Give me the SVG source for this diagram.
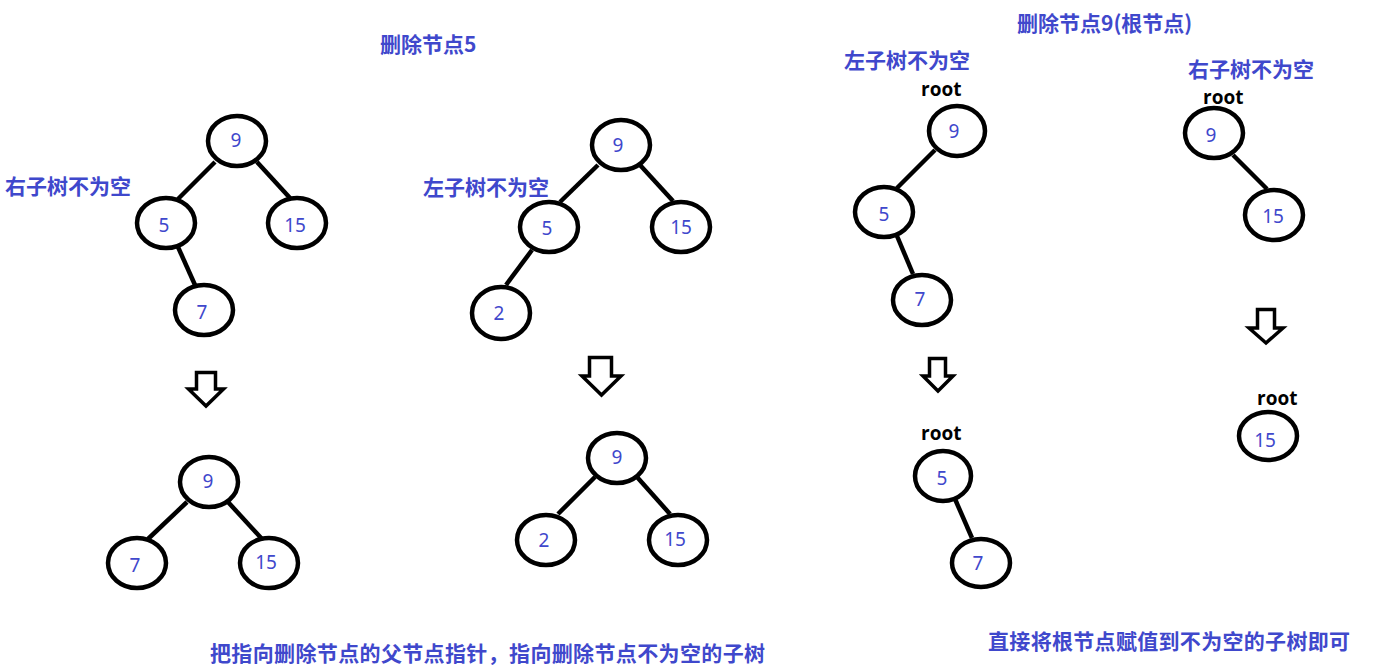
<svg xmlns="http://www.w3.org/2000/svg" width="1374" height="672" viewBox="0 0 1374 672">
<style>
.n ellipse{fill:none;stroke:#000;stroke-width:4.5}
.n text{font-family:"Noto Sans","Open Sans",sans-serif;font-size:19px;fill:#3F48CC;text-anchor:middle;dominant-baseline:central}
.e line{stroke:#000;stroke-width:4.5;stroke-linecap:butt}
.arr{fill:none;stroke:#000;stroke-width:3.5;stroke-linejoin:miter}
.t{font-family:"Noto Sans CJK SC","Noto Sans",sans-serif;font-weight:bold;font-size:21px;fill:#3F48CC;dominant-baseline:central}
.r{font-family:"Open Sans","Noto Sans",sans-serif;font-weight:bold;font-size:19px;fill:#000;dominant-baseline:central}
</style>
<rect width="1374" height="672" fill="#fff"/>

<g id="labels">
<text class="t" x="380" y="43">删除节点5</text>
<text class="t" x="1017" y="22">删除节点9(根节点)</text>
<text class="t" x="5" y="185">右子树不为空</text>
<text class="t" x="423" y="186">左子树不为空</text>
<text class="t" x="844" y="59">左子树不为空</text>
<text class="t" x="1188" y="68">右子树不为空</text>
<text class="t" x="210" y="652" textLength="555" lengthAdjust="spacing">把指向删除节点的父节点指针，指向删除节点不为空的子树</text>
<text class="t" x="988" y="640" textLength="362" lengthAdjust="spacing">直接将根节点赋值到不为空的子树即可</text>
<text class="r" x="921" y="89">root</text>
<text class="r" x="1203" y="97">root</text>
<text class="r" x="921" y="433">root</text>
<text class="r" x="1257" y="398">root</text>
</g>

<g id="connectors" class="e">
<line x1="215" y1="162" x2="178" y2="199"/>
<line x1="257" y1="162" x2="290" y2="198"/>
<line x1="178" y1="247" x2="195" y2="285"/>
<line x1="187" y1="502" x2="148" y2="539"/>
<line x1="228" y1="502" x2="262" y2="539"/>
<line x1="598" y1="165" x2="560" y2="202"/>
<line x1="640" y1="165" x2="673" y2="201"/>
<line x1="532" y1="250" x2="506" y2="285"/>
<line x1="595" y1="477" x2="558" y2="514"/>
<line x1="637" y1="477" x2="670" y2="514"/>
<line x1="935" y1="150" x2="897" y2="188"/>
<line x1="897" y1="236" x2="913" y2="274"/>
<line x1="955" y1="499" x2="972" y2="538"/>
<line x1="1233" y1="155" x2="1267" y2="189"/>
</g>

<g id="arrows">
<polygon class="arr" points="196.5,372.5 215.5,372.5 215.5,389 223.5,389 206,406 188.5,389 196.5,389"/>
<polygon class="arr" points="589.5,357.5 611.5,357.5 611.5,376 621,376 601.5,395 582,376 589.5,376"/>
<polygon class="arr" points="929.5,358.5 945.5,358.5 945.5,376 953,376 938,391 923,376 929.5,376"/>
<polygon class="arr" points="1257.5,309.5 1274.5,309.5 1274.5,328 1283,328 1266,343 1249,328 1257.5,328"/>
</g>

<g id="t1-9" class="n"><ellipse cx="237" cy="141" rx="29" ry="25"/><text x="236" y="140">9</text></g>
<g id="t1-5" class="n"><ellipse cx="166" cy="223" rx="29" ry="25"/><text x="164" y="225">5</text></g>
<g id="t1-15" class="n"><ellipse cx="297" cy="223" rx="29" ry="25"/><text x="295" y="225">15</text></g>
<g id="t1-7" class="n"><ellipse cx="204" cy="310" rx="29" ry="25"/><text x="202" y="312">7</text></g>

<g id="t1b-9" class="n"><ellipse cx="209" cy="482" rx="29" ry="25"/><text x="208" y="481">9</text></g>
<g id="t1b-7" class="n"><ellipse cx="137" cy="563" rx="29" ry="25"/><text x="135" y="565">7</text></g>
<g id="t1b-15" class="n"><ellipse cx="269" cy="563" rx="29" ry="25"/><text x="266" y="562">15</text></g>

<g id="t2-9" class="n"><ellipse cx="621" cy="145" rx="29" ry="25"/><text x="618" y="145">9</text></g>
<g id="t2-5" class="n"><ellipse cx="549" cy="227" rx="29" ry="25"/><text x="547" y="228">5</text></g>
<g id="t2-15" class="n"><ellipse cx="681" cy="227" rx="29" ry="25"/><text x="681" y="227">15</text></g>
<g id="t2-2" class="n"><ellipse cx="501" cy="313" rx="29" ry="26"/><text x="499" y="313">2</text></g>

<g id="t2b-9" class="n"><ellipse cx="617" cy="458" rx="29" ry="25"/><text x="617" y="457">9</text></g>
<g id="t2b-2" class="n"><ellipse cx="546" cy="540" rx="29" ry="25"/><text x="544" y="540">2</text></g>
<g id="t2b-15" class="n"><ellipse cx="678" cy="540" rx="29" ry="25"/><text x="675" y="539">15</text></g>

<g id="t3-9" class="n"><ellipse cx="957" cy="131" rx="28" ry="25"/><text x="954" y="131">9</text></g>
<g id="t3-5" class="n"><ellipse cx="884" cy="212" rx="29" ry="25"/><text x="884" y="214">5</text></g>
<g id="t3-7" class="n"><ellipse cx="922" cy="300" rx="29" ry="25"/><text x="920" y="299">7</text></g>

<g id="t3b-5" class="n"><ellipse cx="943" cy="476" rx="28" ry="25"/><text x="942" y="478">5</text></g>
<g id="t3b-7" class="n"><ellipse cx="981" cy="563" rx="29" ry="24"/><text x="978" y="563">7</text></g>

<g id="t4-9" class="n"><ellipse cx="1214" cy="133" rx="29" ry="25"/><text x="1211" y="135">9</text></g>
<g id="t4-15" class="n"><ellipse cx="1274" cy="215" rx="29" ry="25"/><text x="1273" y="216">15</text></g>

<g id="t4b-15" class="n"><ellipse cx="1268" cy="436" rx="29" ry="24"/><text x="1265" y="440">15</text></g>
</svg>
